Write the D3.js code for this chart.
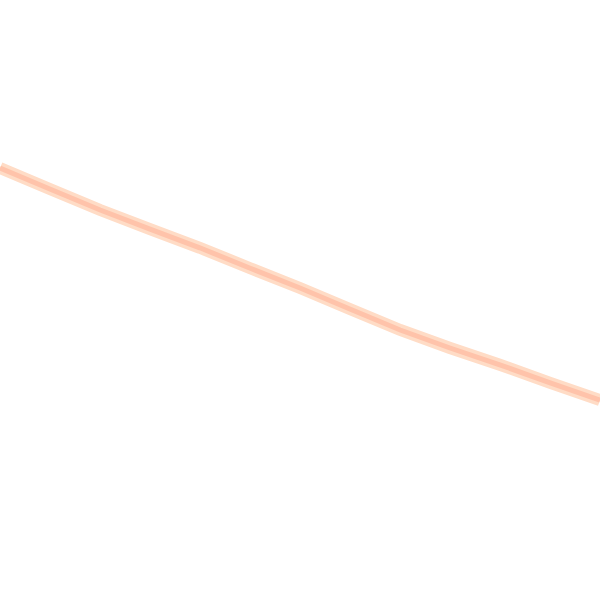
<!DOCTYPE html>
<html>
<head>
<meta charset="utf-8">
<script src="https://cdn.jsdelivr.net/npm/d3@7"></script>
<style>
  html, body { margin: 0; padding: 0; background: #fff; }
  svg { display: block; }
</style>
</head>
<body>
<svg id="chart"></svg>
<script>
// values (x in 0-100, y in 0-100)
const xValues = [0, 8.3, 16.7, 25, 33.3, 41.7, 50, 58.3, 66.7, 75, 83.3, 91.7, 100];
const yValues = [72, 68.5, 65, 61.8, 58.7, 55.3, 52, 48.5, 45, 42, 39.2, 36.2, 33.3];

const width = 600, height = 600;

const svg = d3.select("#chart")
    .attr("width", width)
    .attr("height", height);

const x = d3.scaleLinear().domain([0, 100]).range([0, width]);
const y = d3.scaleLinear().domain([0, 100]).range([height, 0]);

const points = xValues.map((v, i) => [v, yValues[i]]);

const line = d3.line()
    .x(d => x(d[0]))
    .y(d => y(d[1]));

// soft outer band
svg.append("path")
    .datum(points)
    .attr("d", line)
    .attr("fill", "none")
    .attr("stroke", "#ffdcc6")
    .attr("stroke-width", 12);

// darker core
svg.append("path")
    .datum(points)
    .attr("d", line)
    .attr("fill", "none")
    .attr("stroke", "#ffc3aa")
    .attr("stroke-width", 5);
</script>
</body>
</html>
